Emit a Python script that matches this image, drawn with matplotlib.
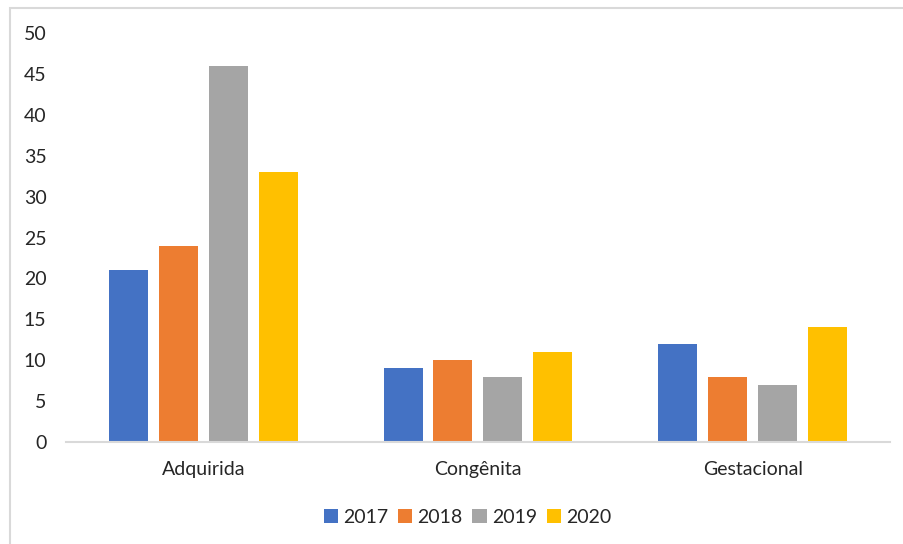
import matplotlib.pyplot as plt
from matplotlib.patches import Rectangle
import numpy as np

plt.rcParams["font.family"] = ["Lato", "DejaVu Sans"]

categorias = ["Adquirida", "Congênita", "Gestacional"]
anos = ["2017", "2018", "2019", "2020"]
valores = {
    "2017": [21, 9, 12],
    "2018": [24, 10, 8],
    "2019": [46, 8, 7],
    "2020": [33, 11, 14],
}
cores = ["#4472C4", "#ED7D31", "#A5A5A5", "#FFC000"]

fig = plt.figure(figsize=(9.04, 5.44), dpi=100)
ax = fig.add_axes([0.0730, 0.1875, 0.9115, 0.7518])

x = np.arange(len(categorias))
passo = 0.182
largura = 0.142
for i, ano in enumerate(anos):
    ax.bar(x + (i - 1.5) * passo, valores[ano], largura, color=cores[i], label=ano)

ax.set_xlim(-0.5, 2.5)
ax.set_ylim(0, 50)
ax.set_yticks(range(0, 51, 5))
ax.set_xticks(x)
ax.set_xticklabels(categorias)
ax.tick_params(axis="both", length=0, labelsize=14, colors="#262626")
ax.tick_params(axis="y", pad=14)
ax.tick_params(axis="x", pad=14)
for s in ["top", "right", "left"]:
    ax.spines[s].set_visible(False)
ax.spines["bottom"].set_color("#D9D9D9")
ax.spines["bottom"].set_linewidth(1.5)

leg = fig.legend(loc="center", bbox_to_anchor=(0.517, 0.049), ncol=4, frameon=False,
                 fontsize=14, handlelength=0.75, handleheight=0.75, handletextpad=0.25,
                 columnspacing=0.5)
for t in leg.get_texts():
    t.set_color("#262626")

# moldura do gráfico
fig.patches.append(Rectangle((10 / 904, -0.1), 1.2, 1.1 - 8 / 544,
                             transform=fig.transFigure, fill=False,
                             edgecolor="#D9D9D9", linewidth=1.5))

fig.savefig("out.png", dpi=100)
